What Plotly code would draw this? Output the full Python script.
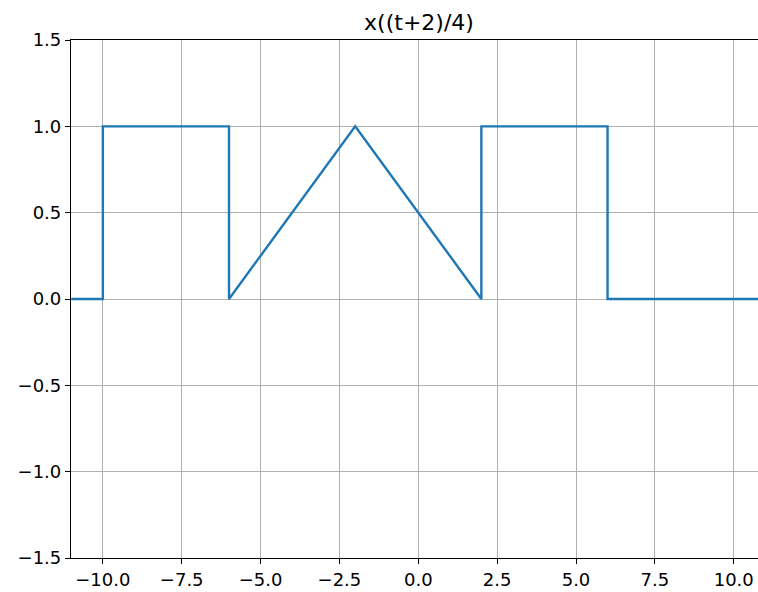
import plotly.graph_objects as go

# Signal x((t+2)/4) breakpoints
t_vals = [-11, -10, -10, -6, -6, -2, 2, 2, 6, 6, 11]
y_vals = [0, 0, 1, 1, 0, 1, 0, 1, 1, 0, 0]

x_tickvals = [-10.0, -7.5, -5.0, -2.5, 0.0, 2.5, 5.0, 7.5, 10.0]
x_ticktext = ["\u221210.0", "\u22127.5", "\u22125.0", "\u22122.5", "0.0", "2.5", "5.0", "7.5", "10.0"]
y_tickvals = [-1.5, -1.0, -0.5, 0.0, 0.5, 1.0, 1.5]
y_ticktext = ["\u22121.5", "\u22121.0", "\u22120.5", "0.0", "0.5", "1.0", "1.5"]

title_text = "x((t+2)/4)"

fig = go.Figure()
fig.add_trace(go.Scatter(x=t_vals, y=y_vals, mode="lines",
                         line=dict(color="#1f77b4", width=2.4), showlegend=False))

W, H = 758, 592
fig.update_layout(
    width=W, height=H,
    margin=dict(l=71, r=0, t=40, b=34, autoexpand=False),
    paper_bgcolor="white", plot_bgcolor="white",
    font=dict(family="DejaVu Sans", size=18, color="black"),
    title=dict(text=title_text, font=dict(size=22, family="DejaVu Sans", color="black"),
               xref="container", yref="container", x=419 / W, xanchor="center",
               y=1 - 22 / H, yanchor="middle"),
)
fig.update_xaxes(range=[-11.01, 10.77], tickvals=x_tickvals, ticktext=x_ticktext,
                 showgrid=True, gridcolor="#b0b0b0", gridwidth=1.1,
                 showline=True, linecolor="black", linewidth=1.2, mirror=True,
                 ticks="outside", ticklen=5, tickwidth=1.1, tickcolor="black",
                 zeroline=False, automargin=False)
fig.update_yaxes(range=[-1.5, 1.5], tickvals=y_tickvals, ticktext=y_ticktext,
                 showgrid=True, gridcolor="#b0b0b0", gridwidth=1.1,
                 showline=True, linecolor="black", linewidth=1.2,
                 ticks="outside", ticklen=5, tickwidth=1.1, tickcolor="black",
                 zeroline=False, automargin=False)

fig.write_html("out.html", config={"displayModeBar": False},
               post_script="document.body.style.margin='0';document.body.style.overflow='hidden';")
